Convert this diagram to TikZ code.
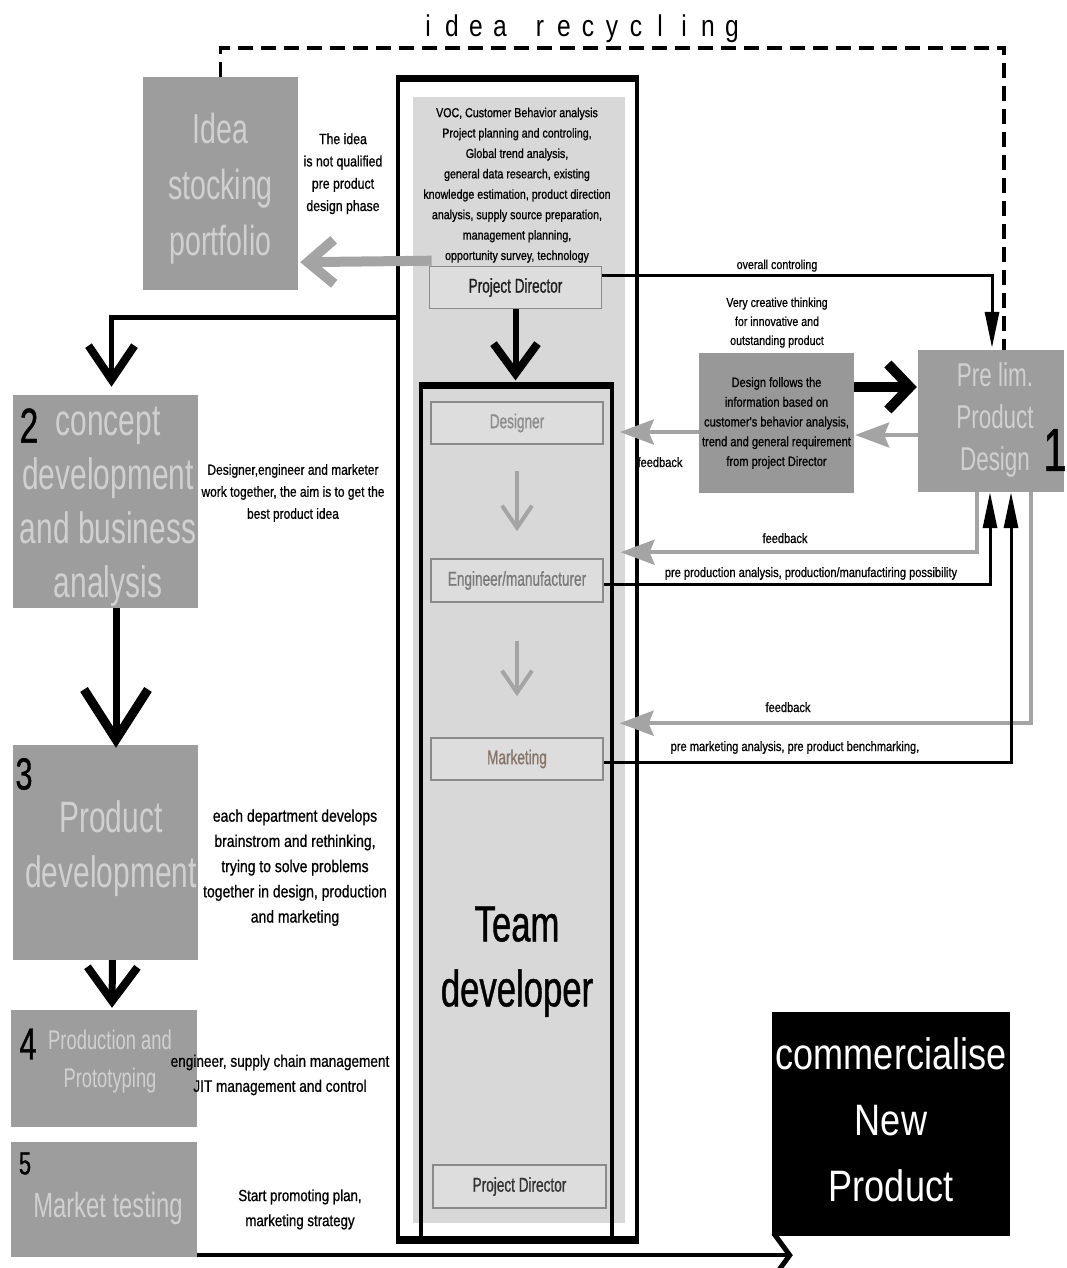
\documentclass[tikz,border=0pt]{standalone}
\usepackage{fontspec}
\setmainfont{Liberation Sans}
\newfontfamily\nA{Liberation Sans}[FakeStretch=0.82,FakeBold=0.8]
\newfontfamily\nW{Liberation Sans}[FakeStretch=0.82]
\newfontfamily\nB{Liberation Sans}[FakeStretch=0.68]
\newfontfamily\nT{Liberation Sans}[FakeStretch=0.68,FakeBold=0.8]
\usetikzlibrary{arrows.meta,calc}
\newcommand\fsz[2]{\fontsize{#1pt}{#2pt}\selectfont}

\definecolor{boxgray}{HTML}{9D9D9D}
\definecolor{lblgray}{HTML}{D0D0D0}
\definecolor{panel}{HTML}{D9D8D9}
\definecolor{rolefill}{HTML}{DEDDDE}
\definecolor{roleline}{HTML}{8A8A8A}
\definecolor{arrowgray}{HTML}{A4A4A4}

\begin{document}
\begin{tikzpicture}[x=1pt,y=-1pt,
  plainbox/.style={fill=boxgray,draw=none,inner sep=0pt},
  rolebox/.style={fill=rolefill,draw=roleline,line width=1.6pt,inner sep=0pt,
    minimum width=172pt,minimum height=42pt,font=\nT\fsz{20}{24}},
  txt/.style={align=center,inner sep=0pt},
  lbl/.style={align=center,inner sep=0pt,text=lblgray},
  digit/.style={inner sep=0pt,text=black},
  thinblack/.style={draw=black,line width=3pt,-{Triangle[length=36pt,width=14pt]}},
  grayhead/.style={draw=arrowgray,line width=4pt,-{Stealth[length=34pt,width=25pt,inset=5pt]}},
  graydown/.style={draw=arrowgray,line width=3.5pt,-{Straight Barb[length=22pt,width=30pt,line width=4pt]}},
  dashline/.style={draw=black,line width=3.5pt,dash pattern=on 15pt off 8pt}
]
\useasboundingbox (0,0) rectangle (1066,1268);

% light panel behind the team column
\fill[panel] (413,97) rectangle (625,1223);

% process boxes
\node[plainbox,minimum width=155pt,minimum height=213pt] (idea)   at (220.5,183.5) {};
\node[plainbox,minimum width=185pt,minimum height=213pt] (stage2) at (105.5,501.5) {};
\node[plainbox,minimum width=185pt,minimum height=215pt] (stage3) at (105.5,852.5) {};
\node[plainbox,minimum width=186pt,minimum height=117pt] (stage4) at (104,1068.5) {};
\node[plainbox,minimum width=186pt,minimum height=115pt] (stage5) at (104,1199.5) {};
\node[plainbox,minimum width=146pt,minimum height=142pt] (prelim) at (991,421) {};
\node[plainbox,fill=boxgray!97!black,minimum width=155pt,minimum height=140pt] (dfbox) at (776.5,423) {};
\node[fill=black,inner sep=0pt,minimum width=238pt,minimum height=224pt] (comm) at (891,1124) {};

% team column frames
\node[draw=black,line width=3.5pt,inner sep=0pt,minimum width=239pt,minimum height=1160pt] (outer) at (517.5,660) {};
\node[draw=black,line width=3.2pt,inner sep=0pt,minimum width=191pt,minimum height=851pt] (team) at (516.5,812.5) {};
\draw[line width=6pt] (outer.north west) -- (outer.north east);
\draw[line width=6pt] (team.north west) -- (team.north east);
\draw[line width=8pt] ($(outer.south west)+(0,-2)$) -- ($(outer.south east)+(0,-2)$);

% roles
\node[rolebox,text=black!88] (pd) at (515.5,287.5) {Project Director};
\node[rolebox,text=black!45] (designer) at (517,423) {Designer};
\node[rolebox,text=black!52,minimum height=43pt] (engineer) at (517,580.5) {Engineer/manufacturer};
\node[rolebox,text={rgb,255:red,133;green,116;blue,104}] (marketing) at (517,759) {Marketing};
\node[rolebox,text=black!80,minimum width=173pt,minimum height=43pt] (pd2) at (519.5,1186.5) {Project Director};

\coordinate (fbEng) at ($(team.east |- engineer.north)+(7,-6)$);
\coordinate (fbMkt) at ($(team.east |- marketing.north)+(6,-14)$);

% idea recycling loop
\draw[dashline] (idea.north) -- ++(0,-29) -| ($(prelim.north)+(13,0)$);
\foreach \ch [count=\k] in {i,d,e,a,r,e,c,y,c,l,i,n,g}{
  \pgfmathsetmacro\xx{428+24*(\k-1)+(\k>4)*16}
  \node[inner sep=0pt,anchor=base,font=\nW\fsz{30}{30}] at (\xx,37) {\ch};
}

% director outputs
\draw[draw=arrowgray,line width=10pt,-{Straight Barb[length=26pt,width=44pt,line width=10pt]}]
  ($(pd.north west)+(3,-5)$) -- ($(idea.south east)+(2,-28)$);
\draw[line width=6pt,-{Straight Barb[length=30pt,width=44pt,line width=8pt]}]
  (pd.south) -- ($(pd.south |- team.north)+(0,-5)$);
\draw[thinblack] ($(pd.east)+(0,-12.5)$) -| ($(prelim.north)+(1,-2)$);

% stage sequence
\draw[line width=5pt,-{Straight Barb[length=34pt,width=46pt,line width=8pt]}]
  ($(outer.north west)+(0,239)$) -| ($(stage2.north)+(6,-8)$);
\draw[line width=7pt,-{Straight Barb[length=50pt,width=64pt,line width=9pt]}]
  ($(stage2.south)+(10.5,0)$) -- ($(stage3.north)+(10.5,3)$);
\draw[line width=7pt,-{Straight Barb[length=34pt,width=50pt,line width=8pt]}]
  ($(stage3.south)+(7,0)$) -- ($(stage4.north)+(8,-2)$);
\draw[line width=4pt,-{Straight Barb[length=16pt,width=44pt,line width=5pt]}]
  ($(stage5.south east)+(0,-2)$) -- ($(comm.south west)+(21,19)$);

% preliminary design exchange
\draw[line width=10pt,-{Straight Barb[length=22pt,width=46pt,line width=10pt]}]
  ($(dfbox.east)+(0,-36)$) -- ($(prelim.west)+(-1,-34)$);
\draw[grayhead] ($(prelim.west)+(0,14)$) -- ($(dfbox.east)+(1,12)$);
\draw[grayhead] ($(dfbox.west)+(0,9)$) -- ($(designer.east)+(16,9)$);

% team internal flow
\draw[graydown] ($(designer.south)+(0,26)$) -- ($(engineer.north)+(0,-27)$);
\draw[graydown] ($(engineer.south)+(0,38)$) -- ($(marketing.north)+(0,-41)$);

% feedback loops with the preliminary design
\draw[grayhead] ($(prelim.south)+(-14,0)$) |- (fbEng);
\draw[grayhead] ($(prelim.south)+(40,0)$) |- (fbMkt);
\draw[thinblack] ($(engineer.east)+(0,3.5)$) -| ($(prelim.south)+(-1,0)$);
\draw[thinblack] ($(marketing.east)+(0,3)$) -| ($(prelim.south)+(20,0)$);

% box labels
\node[lbl,font=\nB\fsz{42}{56}] at (220.5,188.5) {Idea\\stocking\\portfolio};
\node[lbl,font=\nB\fsz{44}{54}] at (108,507) {concept\\development\\and business\\analysis};
\node[lbl,font=\nB\fsz{44}{55}] at (111,849) {Product\\development};
\node[lbl,font=\nB\fsz{27}{38}] at (110,1062) {Production and\\Prototyping};
\node[lbl,font=\nB\fsz{35}{40}] at (108,1208) {Market testing};
\node[lbl,font=\nB\fsz{33}{42}] at (995,419.5) {Pre lim.\\Product\\Design};
\node[txt,font=\nT\fsz{51}{65}] at (517,961.6) {Team\\developer};
\node[txt,text=white,font=\nW\fsz{44}{66}] at (891,1120) {commercialise\\New\\Product};

% stage numbers
\node[digit,font=\nT\fsz{49}{49}] at (29,425.5) {2};
\node[digit,font=\nT\fsz{45}{45}] at (24,774) {3};
\node[digit,font=\nT\fsz{45}{45}] at (28,1044) {4};
\node[digit,font=\nT\fsz{32}{32}] at (25,1163.5) {5};
\node[digit,font=\nT\fsz{61}{61}] at (1055,450) {1};

% descriptions
\node[txt,font=\nA\fsz{13}{20.4}] at (517,185.2) {VOC, Customer Behavior analysis\\Project planning and controling,\\Global trend analysis,\\general data research, existing\\knowledge estimation, product direction\\analysis, supply source preparation,\\management planning,\\opportunity survey, technology};
\node[txt,font=\nA\fsz{15}{22.3}] at (343,173.7) {The idea\\is not qualified\\pre product\\design phase};
\node[txt,font=\nA\fsz{13}{19},anchor=base] at (777,269) {overall controling};
\node[txt,font=\nA\fsz{13}{19}] at (777,322.6) {Very creative thinking\\for innovative and\\outstanding product};
\node[txt,font=\nA\fsz{13.5}{19.75}] at (776.5,423) {Design follows the\\information based on\\customer's behavior analysis,\\trend and general requirement\\from project Director};
\node[txt,font=\nA\fsz{13.5}{16},anchor=base] at (660,467) {feedback};
\node[txt,font=\nA\fsz{13.5}{16},anchor=base] at (785,543) {feedback};
\node[txt,font=\nA\fsz{13.5}{16},anchor=base] at (811,577) {pre production analysis, production/manufactiring possibility};
\node[txt,font=\nA\fsz{13.5}{16},anchor=base] at (788,712) {feedback};
\node[txt,font=\nA\fsz{13.5}{16},anchor=base] at (795,751) {pre marketing analysis, pre product benchmarking,};
\node[txt,font=\nA\fsz{14.6}{22}] at (293,493) {Designer,engineer and marketer\\work together, the aim is to get the\\best product idea};
\node[txt,font=\nA\fsz{17}{25.2}] at (295,867.7) {each department develops\\brainstrom and rethinking,\\trying to solve problems\\together in design, production\\and marketing};
\node[txt,font=\nA\fsz{16.6}{25}] at (280,1075) {engineer, supply chain management\\JIT management and control};
\node[txt,font=\nA\fsz{16.2}{25}] at (300,1209.4) {Start promoting plan,\\marketing strategy};
\end{tikzpicture}
\end{document}
